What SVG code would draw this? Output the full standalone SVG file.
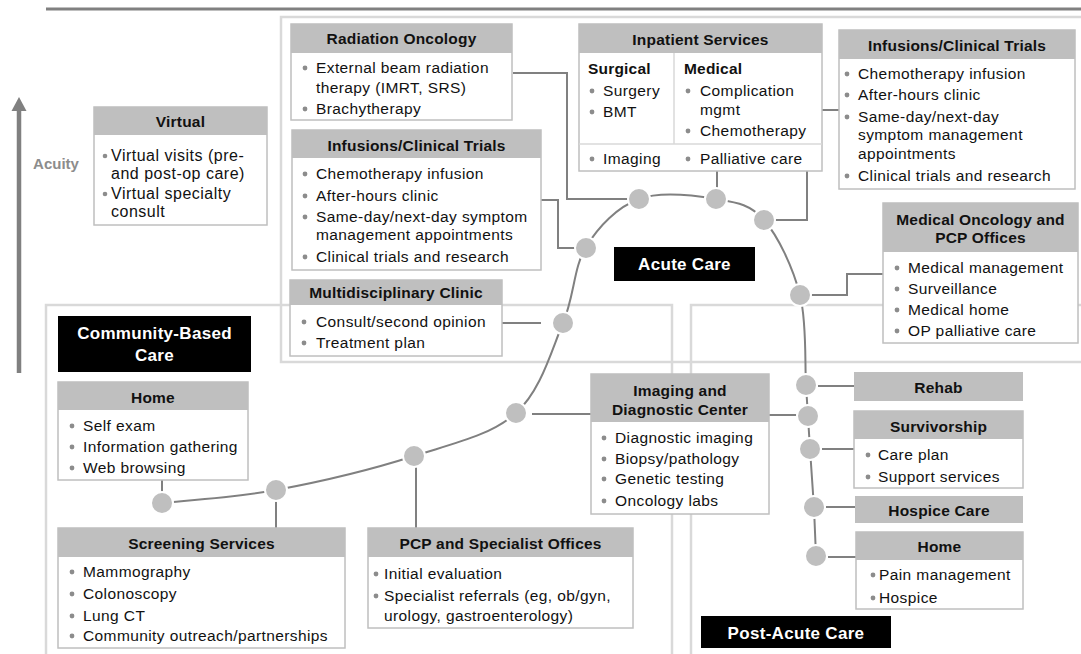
<svg xmlns="http://www.w3.org/2000/svg" width="1081" height="654" viewBox="0 0 1081 654">
<defs>
<style>
.reg{fill:none;stroke:#d9d9d9;stroke-width:2.5}
.body{fill:#fff;stroke:#bfbfbf;stroke-width:1.5}
.hdr{fill:#bfbfbf}
.div{stroke:#d9d9d9;stroke-width:1.5}
text{font-family:"Liberation Sans",Arial,Helvetica,sans-serif;fill:#111}
.t{font-size:15.5px;letter-spacing:0.4px}
.tv{font-size:16px;letter-spacing:0.5px}
.h{font-size:15.5px;font-weight:bold;text-anchor:middle;letter-spacing:0.2px}
.hl{font-size:15.5px;font-weight:bold;letter-spacing:0.2px}
.bl{fill:#8c8c8c}
.lbl{fill:#000}
.lt{font-size:17px;font-weight:bold;fill:#fff;text-anchor:middle;letter-spacing:0.3px}
.con{fill:none;stroke:#808080;stroke-width:2}
.nd{fill:#bfbfbf;stroke:#fff;stroke-width:2}
</style>
</defs>
<rect width="1081" height="654" fill="#fff"/>
<line x1="46" y1="9" x2="1081" y2="9" stroke="#808080" stroke-width="3"/>
<g id="regions">
<rect class="reg" x="281" y="17" width="820" height="345"/>
<rect class="reg" x="46" y="305" width="626" height="370"/>
<rect class="reg" x="691" y="305" width="420" height="370"/>
</g>
<g id="acuity">
<line x1="19" y1="373" x2="19" y2="108" stroke="#808080" stroke-width="4.5"/>
<polygon points="11.5,111 26.5,111 19,97" fill="#808080"/>
<text x="56" y="169" style="font-size:15px;font-weight:bold;fill:#8c8c8c;text-anchor:middle">Acuity</text>
</g>
<g id="connectors">
<path class="con" d="M162,503 C181,500.8 234,497.8 276,490 C318,482.2 374,468.8 414,456 C454,443.2 491.2,435.2 516,413 C540.8,390.8 551.3,350.7 563,323 C574.7,295.3 573.3,267.7 586,247 C598.7,226.3 617.3,207 639,199 C660.7,191 695.2,195.5 716,199 C736.8,202.5 750,204 764,220 C778,236 793,267.5 800,295 C807,322.5 804.7,364.7 806,385 L808,417 L810,449 L814,508 L816,556"/>
<path class="con" d="M513,73 H567 V199 H628"/>
<path class="con" d="M541,200 H558 V248 H575"/>
<path class="con" d="M717,171 V188"/>
<path class="con" d="M807,171 V220 H775"/>
<path class="con" d="M822,110 H839"/>
<path class="con" d="M883,274 H847 V295 H811"/>
<path class="con" d="M502,323 H541"/>
<path class="con" d="M162,480 V492"/>
<path class="con" d="M276,501 V528"/>
<path class="con" d="M416,467 V528"/>
<path class="con" d="M532,414 H591"/>
<path class="con" d="M769,415 H797"/>
<path class="con" d="M818,386 H854"/>
<path class="con" d="M822,449 H854"/>
<path class="con" d="M826,507 H855"/>
<path class="con" d="M828,557 H856"/>
</g>
<g id="virtual">
<rect class="body" x="94" y="107" width="173" height="118"/>
<rect class="hdr" x="94" y="107" width="173" height="28"/>
<text class="h" x="180.5" y="127">Virtual</text>
<circle class="bl" cx="105" cy="156" r="2.3"/><circle class="bl" cx="105" cy="194" r="2.3"/>
<text class="tv" x="111" y="161">Virtual visits (pre-</text>
<text class="tv" x="111" y="179">and post-op care)</text>
<text class="tv" x="111" y="199">Virtual specialty</text>
<text class="tv" x="111" y="217">consult</text>
</g>
<g id="radiation-oncology">
<rect class="body" x="291" y="24" width="221" height="96"/>
<rect class="hdr" x="291" y="24" width="221" height="29"/>
<text class="h" x="401.5" y="44">Radiation Oncology</text>
<circle class="bl" cx="305" cy="68" r="2.4"/><circle class="bl" cx="305" cy="109" r="2.4"/>
<text class="t" x="316" y="73">External beam radiation</text>
<text class="t" x="316" y="93">therapy (IMRT, SRS)</text>
<text class="t" x="316" y="114">Brachytherapy</text>
</g>
<g id="infusions-left">
<rect class="body" x="292" y="130" width="249" height="140"/>
<rect class="hdr" x="292" y="130" width="249" height="28"/>
<text class="h" x="416.5" y="151">Infusions/Clinical Trials</text>
<circle class="bl" cx="305" cy="174" r="2.4"/><circle class="bl" cx="305" cy="196" r="2.4"/><circle class="bl" cx="305" cy="217" r="2.4"/><circle class="bl" cx="305" cy="257" r="2.4"/>
<text class="t" x="316" y="179">Chemotherapy infusion</text>
<text class="t" x="316" y="201">After-hours clinic</text>
<text class="t" x="316" y="222">Same-day/next-day symptom</text>
<text class="t" x="316" y="240">management appointments</text>
<text class="t" x="316" y="262">Clinical trials and research</text>
</g>
<g id="multidisciplinary">
<rect class="body" x="290" y="280" width="212" height="76"/>
<rect class="hdr" x="290" y="280" width="212" height="25"/>
<text class="h" x="396" y="298">Multidisciplinary Clinic</text>
<circle class="bl" cx="304" cy="322" r="2.4"/><circle class="bl" cx="304" cy="343" r="2.4"/>
<text class="t" x="316" y="327">Consult/second opinion</text>
<text class="t" x="316" y="348">Treatment plan</text>
</g>
<g id="inpatient">
<rect class="body" x="579" y="24" width="243" height="147"/>
<rect class="hdr" x="579" y="24" width="243" height="29"/>
<text class="h" x="700.5" y="45">Inpatient Services</text>
<line class="div" x1="674" y1="53" x2="674" y2="144"/>
<line class="div" x1="579" y1="144" x2="822" y2="144"/>
<text class="hl" x="588" y="74">Surgical</text>
<text class="hl" x="684" y="74">Medical</text>
<circle class="bl" cx="592" cy="91" r="2.4"/><circle class="bl" cx="592" cy="112" r="2.4"/><circle class="bl" cx="592" cy="159" r="2.4"/>
<circle class="bl" cx="688" cy="91" r="2.4"/><circle class="bl" cx="688" cy="131" r="2.4"/><circle class="bl" cx="688" cy="159" r="2.4"/>
<text class="t" x="603" y="96">Surgery</text>
<text class="t" x="603" y="117">BMT</text>
<text class="t" x="603" y="164">Imaging</text>
<text class="t" x="700" y="96">Complication</text>
<text class="t" x="700" y="115">mgmt</text>
<text class="t" x="700" y="136">Chemotherapy</text>
<text class="t" x="700" y="164">Palliative care</text>
</g>
<g id="infusions-right">
<rect class="body" x="839" y="30" width="236" height="159"/>
<rect class="hdr" x="839" y="30" width="236" height="29"/>
<text class="h" x="957" y="51">Infusions/Clinical Trials</text>
<circle class="bl" cx="847" cy="74" r="2.4"/><circle class="bl" cx="847" cy="95" r="2.4"/><circle class="bl" cx="847" cy="117" r="2.4"/><circle class="bl" cx="847" cy="176" r="2.4"/>
<text class="t" x="858" y="79">Chemotherapy infusion</text>
<text class="t" x="858" y="100">After-hours clinic</text>
<text class="t" x="858" y="122">Same-day/next-day</text>
<text class="t" x="858" y="140">symptom management</text>
<text class="t" x="858" y="159">appointments</text>
<text class="t" x="858" y="181">Clinical trials and research</text>
</g>
<g id="medical-oncology">
<rect class="body" x="883" y="203" width="195" height="140"/>
<rect class="hdr" x="883" y="203" width="195" height="49"/>
<text class="h" x="980.5" y="225">Medical Oncology and</text>
<text class="h" x="980.5" y="243">PCP Offices</text>
<circle class="bl" cx="897" cy="268" r="2.4"/><circle class="bl" cx="897" cy="289" r="2.4"/><circle class="bl" cx="897" cy="310" r="2.4"/><circle class="bl" cx="897" cy="331" r="2.4"/>
<text class="t" x="908" y="273">Medical management</text>
<text class="t" x="908" y="294">Surveillance</text>
<text class="t" x="908" y="315">Medical home</text>
<text class="t" x="908" y="336">OP palliative care</text>
</g>
<g id="acute-care-label">
<rect class="lbl" x="614" y="247" width="141" height="34"/>
<text class="lt" x="684.5" y="270">Acute Care</text>
</g>
<g id="community-label">
<rect class="lbl" x="58" y="316" width="193" height="56"/>
<text class="lt" x="154.5" y="339">Community-Based</text>
<text class="lt" x="154.5" y="361">Care</text>
</g>
<g id="home-community">
<rect class="body" x="58" y="382" width="190" height="98"/>
<rect class="hdr" x="58" y="382" width="190" height="28"/>
<text class="h" x="153" y="403">Home</text>
<circle class="bl" cx="72" cy="426" r="2.4"/><circle class="bl" cx="72" cy="447" r="2.4"/><circle class="bl" cx="72" cy="468" r="2.4"/>
<text class="t" x="83" y="431">Self exam</text>
<text class="t" x="83" y="452">Information gathering</text>
<text class="t" x="83" y="473">Web browsing</text>
</g>
<g id="screening">
<rect class="body" x="58" y="528" width="287" height="120"/>
<rect class="hdr" x="58" y="528" width="287" height="29"/>
<text class="h" x="201.5" y="549">Screening Services</text>
<circle class="bl" cx="72" cy="572" r="2.4"/><circle class="bl" cx="72" cy="594" r="2.4"/><circle class="bl" cx="72" cy="616" r="2.4"/><circle class="bl" cx="72" cy="636" r="2.4"/>
<text class="t" x="83" y="577">Mammography</text>
<text class="t" x="83" y="599">Colonoscopy</text>
<text class="t" x="83" y="621">Lung CT</text>
<text class="t" x="83" y="641">Community outreach/partnerships</text>
</g>
<g id="pcp-specialist">
<rect class="body" x="368" y="528" width="265" height="100"/>
<rect class="hdr" x="368" y="528" width="265" height="29"/>
<text class="h" x="500.5" y="549">PCP and Specialist Offices</text>
<circle class="bl" cx="376" cy="574" r="2.4"/><circle class="bl" cx="376" cy="596" r="2.4"/>
<text class="t" x="384" y="579">Initial evaluation</text>
<text class="t" x="384" y="601">Specialist referrals (eg, ob/gyn,</text>
<text class="t" x="384" y="621">urology, gastroenterology)</text>
</g>
<g id="imaging-diagnostic">
<rect class="body" x="591" y="374" width="178" height="140"/>
<rect class="hdr" x="591" y="374" width="178" height="48"/>
<text class="h" x="680" y="396">Imaging and</text>
<text class="h" x="680" y="415">Diagnostic Center</text>
<circle class="bl" cx="604" cy="438" r="2.4"/><circle class="bl" cx="604" cy="459" r="2.4"/><circle class="bl" cx="604" cy="479" r="2.4"/><circle class="bl" cx="604" cy="501" r="2.4"/>
<text class="t" x="615" y="443">Diagnostic imaging</text>
<text class="t" x="615" y="464">Biopsy/pathology</text>
<text class="t" x="615" y="484">Genetic testing</text>
<text class="t" x="615" y="506">Oncology labs</text>
</g>
<g id="rehab">
<rect class="hdr" x="854" y="372" width="169" height="29"/>
<text class="h" x="938.5" y="393">Rehab</text>
</g>
<g id="survivorship">
<rect class="body" x="854" y="411" width="169" height="77"/>
<rect class="hdr" x="854" y="411" width="169" height="28"/>
<text class="h" x="938.5" y="432">Survivorship</text>
<circle class="bl" cx="868" cy="455" r="2.4"/><circle class="bl" cx="868" cy="477" r="2.4"/>
<text class="t" x="878" y="460">Care plan</text>
<text class="t" x="878" y="482">Support services</text>
</g>
<g id="hospice-care">
<rect class="hdr" x="855" y="496" width="168" height="27"/>
<text class="h" x="939" y="516">Hospice Care</text>
</g>
<g id="home-post">
<rect class="body" x="856" y="532" width="167" height="77"/>
<rect class="hdr" x="856" y="532" width="167" height="28"/>
<text class="h" x="939.5" y="552">Home</text>
<circle class="bl" cx="873" cy="575" r="2.4"/><circle class="bl" cx="873" cy="598" r="2.4"/>
<text class="t" x="879" y="580">Pain management</text>
<text class="t" x="879" y="603">Hospice</text>
</g>
<g id="post-acute-label">
<rect class="lbl" x="701" y="616" width="190" height="32"/>
<text class="lt" x="796" y="639">Post-Acute Care</text>
</g>
<g id="pathway-nodes">
<circle class="nd" cx="162" cy="503" r="11"/>
<circle class="nd" cx="276" cy="490" r="11"/>
<circle class="nd" cx="414" cy="456" r="11"/>
<circle class="nd" cx="516" cy="413" r="11"/>
<circle class="nd" cx="563" cy="323" r="11"/>
<circle class="nd" cx="586" cy="248" r="11"/>
<circle class="nd" cx="639" cy="199" r="11"/>
<circle class="nd" cx="716" cy="199" r="11"/>
<circle class="nd" cx="764" cy="220" r="11"/>
<circle class="nd" cx="800" cy="295" r="11"/>
<circle class="nd" cx="806" cy="385" r="11"/>
<circle class="nd" cx="808" cy="416" r="11"/>
<circle class="nd" cx="810" cy="449" r="11"/>
<circle class="nd" cx="814" cy="507" r="11"/>
<circle class="nd" cx="816" cy="556" r="11"/>
</g>
</svg>
